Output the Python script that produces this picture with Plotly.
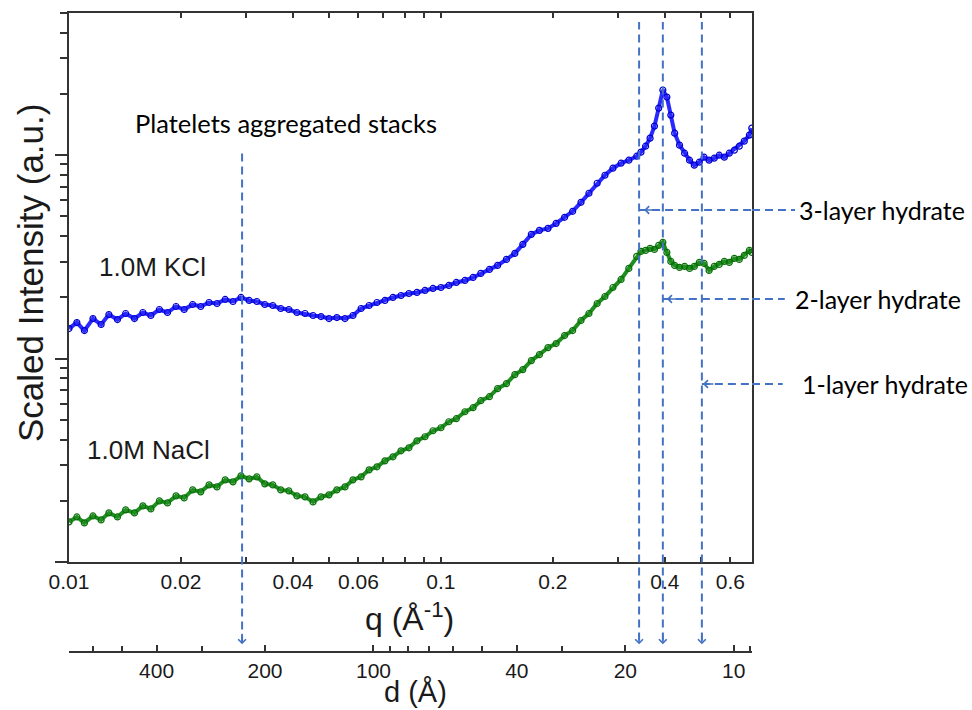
import math
import plotly.graph_objects as go

# ---------------- data ----------------
q = [0.0100, 0.0105, 0.0110, 0.0116, 0.0122, 0.0128, 0.0135, 0.0142, 0.0150, 0.0158,
     0.0166, 0.0175, 0.0184, 0.0194, 0.0204, 0.0215, 0.0226, 0.0238, 0.0250, 0.0263,
     0.0276, 0.0290, 0.0305, 0.0320, 0.0336, 0.0353, 0.0371, 0.0390, 0.0410, 0.0431,
     0.0453, 0.0476, 0.0500, 0.0525, 0.0552, 0.0580, 0.0610, 0.0641, 0.0673, 0.0707,
     0.0743, 0.0781, 0.0820, 0.0862, 0.0906, 0.0952, 0.100, 0.105, 0.110, 0.116,
     0.122, 0.128, 0.135, 0.142, 0.150, 0.158, 0.166, 0.175, 0.184, 0.194,
     0.204, 0.215, 0.226, 0.238, 0.250, 0.263, 0.276, 0.290, 0.305, 0.320,
     0.336, 0.345, 0.355, 0.365, 0.375, 0.385, 0.395, 0.405, 0.415, 0.425,
     0.438, 0.452, 0.466, 0.480, 0.495, 0.510, 0.526, 0.543, 0.560, 0.578,
     0.596, 0.615, 0.634, 0.654, 0.675, 0.685]

kcl = [1.405, 1.504, 1.374, 1.574, 1.471, 1.647, 1.556, 1.666, 1.574, 1.685,
       1.629, 1.743, 1.685, 1.804, 1.743, 1.845, 1.804, 1.887, 1.866, 1.953,
       1.909, 1.998, 1.931, 1.909, 1.845, 1.824, 1.763, 1.743, 1.685, 1.666,
       1.629, 1.610, 1.574, 1.592, 1.574, 1.629, 1.763, 1.824, 1.887, 1.931,
       1.998, 2.043, 2.090, 2.114, 2.163, 2.212, 2.237, 2.289, 2.368, 2.422,
       2.506, 2.623, 2.744, 2.872, 3.074, 3.290, 3.644, 4.082, 4.271, 4.369,
       4.624, 4.950, 5.298, 5.868, 6.499, 7.279, 7.970, 8.629, 9.133, 9.449,
       9.887, 10.35, 11.07, 12.13, 13.90, 17.04, 20.90, 19.31, 15.74, 12.83,
       11.20, 10.23, 9.449, 8.928, 9.237, 9.776, 9.449, 9.666, 10.00, 9.776,
       10.23, 10.58, 11.07, 11.72, 12.55, 13.58]

nacl = [0.1574, 0.1666, 0.1557, 0.1685, 0.1610, 0.1744, 0.1666, 0.1804, 0.1744, 0.1888,
        0.1824, 0.1998, 0.1953, 0.2114, 0.2067, 0.2263, 0.2213, 0.2395, 0.2341, 0.2535,
        0.2478, 0.2653, 0.2564, 0.2623, 0.2423, 0.2395, 0.2263, 0.2238, 0.2114, 0.2091,
        0.1975, 0.2091, 0.2139, 0.2263, 0.2341, 0.2535, 0.2623, 0.2839, 0.2938, 0.3144,
        0.3290, 0.3522, 0.3644, 0.3945, 0.4128, 0.4419, 0.4572, 0.4894, 0.5064, 0.5481,
        0.5736, 0.6210, 0.6499, 0.7116, 0.7531, 0.8340, 0.8828, 0.9776, 1.046, 1.133,
        1.186, 1.298, 1.374, 1.539, 1.666, 1.866, 2.020, 2.237, 2.450, 2.776,
        3.180, 3.366, 3.404, 3.483, 3.443, 3.603, 3.728, 3.328, 3.005, 2.872,
        2.807, 2.839, 2.776, 2.839, 2.971, 2.938, 2.713, 2.839, 2.905, 3.005,
        2.971, 3.109, 3.074, 3.217, 3.404, 3.328]

q_ticks = [0.01, 0.02, 0.04, 0.06, 0.1, 0.2, 0.4, 0.6]
q_tick_text = ["0.01", "0.02", "0.04", "0.06", "0.1", "0.2", "0.4", "0.6"]
q_minor = [0.03, 0.05, 0.07, 0.08, 0.09, 0.3, 0.5]
q_range = [0.01, 0.686]

d_ticks = [400, 200, 100, 40, 20, 10]
d_tick_text = ["400", "200", "100", "40", "20", "10"]
d_minor = [600, 500, 300, 90, 80, 70, 60, 50, 30, 9]
d_range = [700, 8.9]

i_major = [0.1, 1, 10]
i_minor = [0.2, 0.3, 0.4, 0.5, 0.6, 0.7, 0.8, 0.9,
           2, 3, 4, 5, 6, 7, 8, 9, 20, 30, 40, 50]
i_range = [0.1, 50]

platelet_q = 0.0292
hydrate_q = [0.341, 0.395, 0.503]
hydrate_labels = ["3-layer hydrate", "2-layer hydrate", "1-layer hydrate"]

# ---------------- styling ----------------
AX = "#333333"
DASH = "#4472C4"
TXT = "#1a1a1a"
SANS = "Liberation Sans, Arial, sans-serif"
CAL = "Lato, Noto Sans, sans-serif"

fig = go.Figure()
fig.add_trace(go.Scatter(
    x=q, y=kcl, mode="lines+markers", name="1.0M KCl",
    line=dict(color="#2a2aff", width=4),
    marker=dict(symbol="circle-open", size=6, color="#0000d0", line=dict(width=1.2)),
    hoverinfo="skip"))
fig.add_trace(go.Scatter(
    x=q, y=nacl, mode="lines+markers", name="1.0M NaCl",
    line=dict(color="#1f8f1f", width=4),
    marker=dict(symbol="circle-open", size=6, color="#0a6e0a", line=dict(width=1.2)),
    hoverinfo="skip"))
# invisible trace that carries the secondary d-axis
fig.add_trace(go.Scatter(
    x=d_ticks, y=[1] * len(d_ticks), xaxis="x2", yaxis="y", mode="markers",
    marker=dict(opacity=0), hoverinfo="skip", showlegend=False))

fig.update_layout(
    width=972, height=710,
    margin=dict(l=69, r=220, t=13, b=58),
    paper_bgcolor="white", plot_bgcolor="white",
    showlegend=False, hovermode=False,
    xaxis=dict(
        type="log", range=[math.log10(v) for v in q_range], domain=[0, 1], anchor="y",
        tickmode="array", tickvals=q_ticks, ticktext=q_tick_text,
        ticks="inside", ticklen=5, tickwidth=1.5, tickcolor=AX,
        minor=dict(tickvals=q_minor, ticks="inside", ticklen=5, tickwidth=1.5,
                   tickcolor=AX, showgrid=False),
        showline=True, linecolor=AX, linewidth=2, mirror="ticks",
        showgrid=False, zeroline=False,
        tickfont=dict(family=SANS, size=21, color=TXT),
    ),
    xaxis2=dict(
        type="log", range=[math.log10(v) for v in d_range], overlaying="x",
        anchor="free", position=0, side="bottom", domain=[0, 1],
        tickmode="array", tickvals=d_ticks, ticktext=d_tick_text,
        ticks="inside", ticklen=6, tickwidth=1.5, tickcolor=AX,
        minor=dict(tickvals=d_minor, ticks="inside", ticklen=5, tickwidth=1.5,
                   tickcolor=AX, showgrid=False),
        showline=True, linecolor=AX, linewidth=2,
        showgrid=False, zeroline=False,
        tickfont=dict(family=SANS, size=21, color=TXT),
    ),
    yaxis=dict(
        type="log", range=[math.log10(v) for v in i_range], domain=[0.1408, 1],
        tickmode="array", tickvals=i_major, showticklabels=False,
        ticks="outside", ticklen=12, tickwidth=1.5, tickcolor=AX,
        minor=dict(tickvals=i_minor, ticks="outside", ticklen=7, tickwidth=1.5,
                   tickcolor=AX, showgrid=False),
        showline=True, linecolor=AX, linewidth=2, mirror=True,
        showgrid=False, zeroline=False,
    ),
)

dash_line = dict(color=DASH, width=2, dash="8px,5px")

# vertical dashed guide lines (data x, paper y)
fig.add_shape(type="line", xref="x", yref="paper", x0=platelet_q, x1=platelet_q,
              y0=0.015, y1=0.784, line=dash_line)
for hq in hydrate_q:
    fig.add_shape(type="line", xref="x", yref="paper", x0=hq, x1=hq,
                  y0=0.018, y1=0.986, line=dash_line)

# horizontal dashed pointers
h_y = [0.6917, 0.5524, 0.4194]
h_end = [1.063, 1.048, 1.045]
h_text_x = [1.066, 1.060, 1.070]
h_shift = [5, 4, 1]
for hq, yy, xe, tx, lab, sh in zip(hydrate_q, h_y, h_end, h_text_x, hydrate_labels, h_shift):
    fig.add_shape(type="line", xref="x", yref="paper", x0=hq, x1=10,
                  y0=yy, y1=yy, line=dash_line)
    fig.add_shape(type="line", xref="paper", yref="paper", x0=1.0, x1=xe,
                  y0=yy, y1=yy, line=dash_line)
    fig.add_annotation(x=math.log10(hq), y=yy, xref="x", yref="paper", text="",
                       showarrow=True, ax=12, ay=0, arrowhead=4, arrowsize=1,
                       arrowwidth=1.5, arrowcolor=DASH, xshift=sh)
    fig.add_annotation(x=tx, y=yy, xref="paper", yref="paper", text=lab,
                       showarrow=False, xanchor="left", yanchor="middle",
                       font=dict(family=CAL, size=25, color="black"))

# down arrowheads at the d axis
for vq in [platelet_q] + hydrate_q:
    fig.add_annotation(x=math.log10(vq), y=0.012, xref="x", yref="paper", text="",
                       showarrow=True, ax=0, ay=-12, arrowhead=4, arrowsize=1,
                       arrowwidth=1.5, arrowcolor=DASH)

# text labels
fig.add_annotation(x=0.0937, y=0.828, xref="paper", yref="paper",
                   text="Platelets aggregated stacks", showarrow=False,
                   xanchor="left", yanchor="middle",
                   font=dict(family=CAL, size=25.5, color="black"))
fig.add_annotation(x=0.041, y=0.6025, xref="paper", yref="paper", text="1.0M KCl",
                   showarrow=False, xanchor="left", yanchor="middle",
                   font=dict(family=SANS, size=26, color=TXT))
fig.add_annotation(x=0.0234, y=0.316, xref="paper", yref="paper", text="1.0M NaCl",
                   showarrow=False, xanchor="left", yanchor="middle",
                   font=dict(family=SANS, size=26, color=TXT))

# axis titles
fig.add_annotation(x=-0.0571, y=0.593, xref="paper", yref="paper",
                   text="Scaled Intensity (a.u.)", textangle=-90, showarrow=False,
                   xanchor="center", yanchor="middle",
                   font=dict(family=SANS, size=35, color=TXT))
fig.add_annotation(x=0.499, y=0.0548, xref="paper", yref="paper",
                   text="q (Å<sup>-1</sup>)", showarrow=False,
                   xanchor="center", yanchor="middle",
                   font=dict(family=SANS, size=32, color=TXT))
fig.add_annotation(x=0.508, y=-0.0908, xref="paper", yref="paper",
                   text="d (Å)", showarrow=False,
                   xanchor="center", yanchor="bottom",
                   font=dict(family=SANS, size=29, color=TXT))

fig.write_html("out.html")
